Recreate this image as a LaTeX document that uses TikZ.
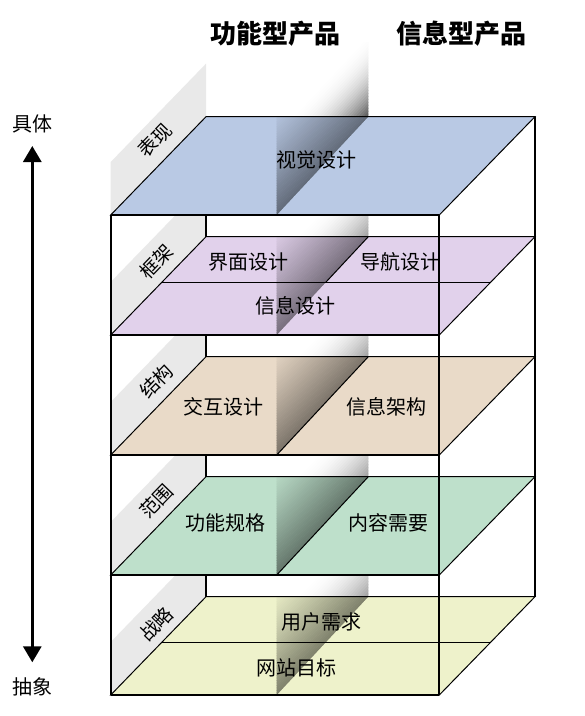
\documentclass[tikz,border=0pt]{standalone}
\usepackage{fontspec}
\newfontfamily\cjk{Noto Sans CJK SC}
\usetikzlibrary{arrows.meta}
\definecolor{cBlue}{RGB}{185,201,228}
\definecolor{cPurple}{RGB}{225,209,235}
\definecolor{cTan}{RGB}{233,218,200}
\definecolor{cGreen}{RGB}{190,224,203}
\definecolor{cYellow}{RGB}{238,242,203}
\definecolor{cBand}{RGB}{233,233,233}
\begin{document}
\begin{tikzpicture}[x=1pt,y=-1pt]
\tikzset{
  boxline/.style={line width=2pt},
  planeline/.style={line width=1pt},
  planelabel/.style={font=\cjk\fontsize{20}{20}\selectfont, inner sep=0pt},
  bandlabel/.style={font=\cjk\fontsize{19}{19}\selectfont, inner sep=0pt, rotate=46},
  sidelabel/.style={font=\cjk\fontsize{20}{20}\selectfont, inner sep=0pt},
  header/.style={font=\cjk\bfseries\fontsize{26}{26}\selectfont, inner sep=0pt},
}
\useasboundingbox (0,0) rectangle (585,716);
\fill[white] (0,0) rectangle (585,716);

% gray side bands
\foreach \i in {0,...,4}{
  \pgfmathsetmacro\yb{116.7+120*\i}
  \pgfmathsetmacro\yf{\yb+98.3}
  \pgfmathsetmacro\ytop{\i==0 ? 0 : \yb-21.7}
  \begin{scope}
    \clip (100,\ytop) rectangle (210,\yf);
    \fill[cBand] (110.7,{\yf-53}) -- (206,{\yb-53}) -- (206,\yb) -- (110.7,\yf) -- cycle;
  \end{scope}
}

% back left edge (behind planes)
\draw[boxline] (206,215) -- (206,596.7);

% divider column above the top layer (diagonal gradient)
\begin{scope}
  \clip (276.7,42) rectangle (368.3,116.7);
  \pgfmathsetmacro\send{368.3+0.932*116.7}
  \foreach \k in {0,...,59}{
    \pgfmathsetmacro\ua{165*\k/60}
    \pgfmathsetmacro\ub{165*(\k+1)/60}
    \pgfmathsetmacro\um{(\ua+\ub)/2}
    \pgfmathsetmacro\dk{68*max(0,1-\um/80)^2.2}
    \pgfmathsetmacro\sa{\send-\ub}
    \pgfmathsetmacro\sb{\send-\ua+0.6}
    \fill[black!\dk] ({\sa-0.932*30},30) -- ({\sb-0.932*30},30) -- ({\sb-0.932*130},130) -- ({\sa-0.932*130},130) -- cycle;
  }
\end{scope}

% divider column in the gaps between layers
\foreach \i in {1,...,4}{
  \pgfmathsetmacro\yb{116.7+120*\i}
  \pgfmathsetmacro\send{368.3+0.932*\yb}
  \pgfmathsetmacro\yt{\yb-30}
  \pgfmathsetmacro\ybt{\yb+10}
  \begin{scope}
    \clip (276.7,{\yb-21.7}) rectangle (368.3,\yb);
    \foreach \k in {0,...,39}{
      \pgfmathsetmacro\ua{115*\k/40}
      \pgfmathsetmacro\ub{115*(\k+1)/40}
      \pgfmathsetmacro\um{(\ua+\ub)/2}
      \pgfmathsetmacro\dk{38*max(0,1-\um/75)^2}
      \pgfmathsetmacro\sa{\send-\ub}
      \pgfmathsetmacro\sb{\send-\ua+0.6}
      \fill[black!\dk] ({\sa-0.932*\yt},\yt) -- ({\sb-0.932*\yt},\yt) -- ({\sb-0.932*\ybt},\ybt) -- ({\sa-0.932*\ybt},\ybt) -- cycle;
    }
  \end{scope}
}

% layers
\foreach \i/\c in {0/cBlue,1/cPurple,2/cTan,3/cGreen,4/cYellow}{
  \pgfmathsetmacro\yb{116.7+120*\i}
  \pgfmathsetmacro\yf{\yb+98.3}
  \pgfmathsetmacro\send{368.3+0.932*\yb}
  \pgfmathsetmacro\yt{\yb-10}
  \pgfmathsetmacro\ybt{\yf+10}
  \fill[\c] (110.7,\yf) -- (439.3,\yf) -- (535,\yb) -- (206,\yb) -- cycle;
  \begin{scope}
    \clip (276.7,\yb) -- (368.3,\yb) -- (276.7,\yf) -- cycle;
    \foreach \k in {0,...,39}{
      \pgfmathsetmacro\ua{92*\k/40}
      \pgfmathsetmacro\ub{92*(\k+1)/40}
      \pgfmathsetmacro\um{(\ua+\ub)/2}
      \pgfmathsetmacro\dk{44*max(0,1-\um/95)^1.15+3}
      \pgfmathsetmacro\sa{\send-\ub}
      \pgfmathsetmacro\sb{\send-\ua+0.6}
      \fill[black!\dk!\c] ({\sa-0.932*\yt},\yt) -- ({\sb-0.932*\yt},\yt) -- ({\sb-0.932*\ybt},\ybt) -- ({\sa-0.932*\ybt},\ybt) -- cycle;
    }
  \end{scope}
  \draw[planeline] (110.7,\yf) -- (439.3,\yf) -- (535,\yb) -- (206,\yb) -- cycle;
}

% internal division lines
\draw[planeline] (161.4,282.7) -- (490.4,282.7);
\draw[planeline] (368.3,236.7) -- (325.4,282.7);
\draw[planeline] (368.3,356.7) -- (276.7,455);
\draw[planeline] (368.3,476.7) -- (276.7,575);
\draw[planeline] (161.4,642.7) -- (490.4,642.7);

% box edges
\draw[boxline] (535,116.7) -- (535,596.7);
\draw[boxline] (110.7,215) -- (110.7,695);
\draw[boxline] (439.3,215) -- (439.3,695);
\foreach \y in {215,335,455,575,695}{
  \draw[boxline] (110.7,\y) -- (439.3,\y);
}

% headers
\node[header] (hFunc) at (275,33.3) {功能型产品};
\node[header] (hInfo) at (461.7,33.3) {信息型产品};

% band labels
\node[bandlabel] (bSurface) at (155,140) {表现};
\node[bandlabel] (bSkeleton) at (156.7,261.7) {框架};
\node[bandlabel] (bStructure) at (156.7,381) {结构};
\node[bandlabel] (bScope) at (156.7,501) {范围};
\node[bandlabel] (bStrategy) at (156.7,624) {战略};

% plane labels
\node[planelabel] (tVisual) at (316.7,160) {视觉设计};
\node[planelabel] (tIface) at (248.3,261.7) {界面设计};
\node[planelabel] (tNav) at (400,261.7) {导航设计};
\node[planelabel] (tInfoD) at (295,306) {信息设计};
\node[planelabel] (tInter) at (223.3,406.7) {交互设计};
\node[planelabel] (tIA) at (386.7,406.7) {信息架构};
\node[planelabel] (tSpec) at (225,523.3) {功能规格};
\node[planelabel] (tContent) at (388.3,523.3) {内容需要};
\node[planelabel] (tUser) at (321.7,621.7) {用户需求};
\node[planelabel] (tSite) at (296.7,668.3) {网站目标};

% left axis
\node[sidelabel] (concrete) at (32.3,124) {具体};
\node[sidelabel] (abstract) at (32.3,687.3) {抽象};
\coordinate (arrTop) at (32.3,146);
\coordinate (arrBot) at (32.3,662.3);
\draw[line width=3pt, {Triangle[width=18pt,length=16pt]}-{Triangle[width=18pt,length=16pt]}] (arrTop) -- (arrBot);
\end{tikzpicture}
\end{document}
